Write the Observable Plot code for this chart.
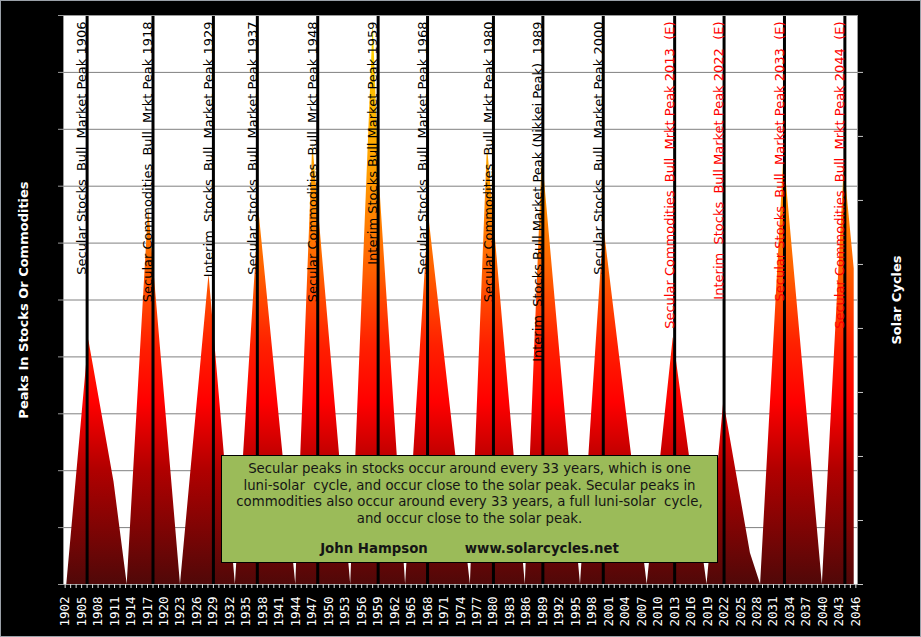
<!DOCTYPE html>
<html>
<head>
<meta charset="utf-8">
<script src="https://cdn.jsdelivr.net/npm/d3@7"></script>
<script src="https://cdn.jsdelivr.net/npm/@observablehq/plot@0.6"></script>
<style>
  html, body { margin: 0; padding: 0; background: #000; }
  #wrap { position: relative; width: 921px; height: 637px; overflow: hidden; background: #000; }
  #wrap svg text { white-space: pre; }
  #note {
    position: absolute; left: 221px; top: 455px; width: 497px; height: 108px;
    box-sizing: border-box; background: #9BBB59; border: 1px solid #000;
    font-family: "DejaVu Sans", Verdana, sans-serif; font-size: 13.3px; color: #151515;
    text-align: center; line-height: 16.5px; padding-top: 5px; white-space: pre;
  }
  #note b { display: inline-block; margin-top: 14px; }
  #border { position: absolute; left: 0; top: 0; width: 921px; height: 637px; box-sizing: border-box; border: 1px solid #9aa0a8; pointer-events: none; }
</style>
</head>
<body>
<div id="wrap"></div>
<script>
// ---- data ----
const solarYears  = [1902.3, 1906.3, 1910.9, 1913.3, 1917.2, 1923.0, 1928.2, 1933.0, 1937.3, 1944.0,
                     1947.1, 1954.0, 1958.1, 1959.1, 1964.0, 1968.2, 1975.8, 1978.9, 1985.8, 1988.9,
                     1995.85, 2000.1, 2008.0, 2012.75, 2018.9, 2021.95, 2026.8, 2028.65, 2032.9, 2039.9,
                     2043.9, 2045.7];
const solarValues = [0, 43, 18, 0, 66.2, 0, 54.5, 0, 65.6, 0,
                     77.5, 0, 99, 73, 0, 65, 0, 77.2, 0, 75.4,
                     0, 63, 0, 43.4, 0, 32.2, 5.5, 0, 75.5, 0,
                     73.7, 55.5];

const peakYears  = [1906, 1918, 1929, 1937, 1948, 1959, 1968, 1980, 1989, 2000, 2013, 2022, 2033, 2044];
const peakLabels = [
  "Secular Stocks  Bull  Market Peak 1906",
  "Secular Commodities  Bull  Mrkt Peak 1918",
  "Interim  Stocks  Bull  Market Peak 1929",
  "Secular Stocks  Bull  Market Peak 1937",
  "Secular Commodities  Bull  Mrkt Peak 1948",
  "Interim Stocks Bull Market Peak 1959",
  "Secular Stocks  Bull  Market Peak 1968",
  "Secular Commodities  Bull  Mrkt Peak 1980",
  "Interim  Stocks Bull Market Peak (Nikkei Peak)  1989",
  "Secular Stocks  Bull  Market Peak 2000",
  "Secular Commodities  Bull  Mrkt Peak 2013  (E)",
  "Interim  Stocks  Bull Market Peak 2022  (E)",
  "Secular Stocks  Bull  Market Peak 2033  (E)",
  "Secular Commodities  Bull  Mrkt Peak 2044  (E)"
];
const peakEstimated = [false, false, false, false, false, false, false, false, false, false, true, true, true, true];

const yearTicks  = d3.range(1902, 2047);          // minor ticks every year
const labelEvery = 3;                              // labelled every 3 years from 1902
const leftTicks  = d3.range(0, 101, 10);
const rightTicks = d3.range(0, 91, 11.25);

const leftTitle  = "Peaks In Stocks Or Commodities";
const rightTitle = "Solar Cycles";
const noteLines  = [
  "Secular peaks in stocks occur around every 33 years, which is one",
  "luni-solar  cycle, and occur close to the solar peak. Secular peaks in",
  "commodities also occur around every 33 years, a full luni-solar  cycle,",
  "and occur close to the solar peak."
];
const noteCredit = "John Hampson        www.solarcycles.net";

// ---- build ----
const solar = solarYears.map((year, i) => ({year, value: solarValues[i]}));
const peaks = peakYears.map((year, i) => ({year, label: peakLabels[i], est: peakEstimated[i]}));

const chart = Plot.plot({
  width: 921, height: 637,
  marginLeft: 63, marginRight: 64, marginTop: 15, marginBottom: 53,
  style: {background: "#000", color: "#fff", fontFamily: "DejaVu Sans, Verdana, sans-serif", overflow: "visible"},
  x: {domain: [1901.7, 2046.3]},
  y: {domain: [0, 100]},
  marks: [
    Plot.frame({fill: "#fff"}),
    Plot.gridY(leftTicks.slice(1, -1), {stroke: "#808080", strokeOpacity: 1}),
    Plot.areaY(solar, {x: "year", y: "value", fill: "url(#solarGrad)"}),
    Plot.ruleX(peaks, {x: "year", stroke: "#000", strokeWidth: 3}),
    Plot.text(peaks.filter(d => !d.est), {x: "year", text: "label", frameAnchor: "top", rotate: -90, textAnchor: "end",
      dx: -10, dy: 6, fill: "#000", fontSize: 13}),
    Plot.text(peaks.filter(d => d.est), {x: "year", text: "label", frameAnchor: "top", rotate: -90, textAnchor: "end",
      dx: -10, dy: 6, fill: "#ff0000", fontSize: 13}),
    Plot.frame({stroke: "#9a9a9a"}),
    Plot.axisX({ticks: yearTicks, tickSize: 4, tickPadding: 8, tickRotate: -90, stroke: "#ddd", fill: "#fff",
      tickFormat: d => ((d - 1902) % labelEvery === 0 ? String(d) : ""),
      fontFamily: "DejaVu Sans Mono, monospace", fontSize: 12.5, label: null}),
    Plot.axisY({ticks: leftTicks, tickSize: 5, stroke: "#9a9a9a", tickFormat: () => "", label: null}),
    Plot.axisY({ticks: rightTicks, anchor: "right", tickSize: 5, stroke: "#c8c8c8", tickFormat: () => "", label: null}),
    Plot.text([leftTitle], {frameAnchor: "left", textAnchor: "middle", dx: -40, rotate: -90, fill: "#fff", fontWeight: "bold", fontSize: 13}),
    Plot.text([rightTitle], {frameAnchor: "right", textAnchor: "middle", dx: 39, rotate: -90, fill: "#fff", fontWeight: "bold", fontSize: 13})
  ]
});

// vertical colour gradient shared by all the solar-cycle triangles
const grad = d3.select(chart).insert("defs", ":first-child")
  .append("linearGradient").attr("id", "solarGrad")
  .attr("gradientUnits", "userSpaceOnUse")
  .attr("x1", 0).attr("x2", 0).attr("y1", 15).attr("y2", 584);
[[0, "#ffe600"], [0.12, "#ffc000"], [0.27, "#ffa000"], [0.45, "#ff6000"], [0.58, "#ff2000"],
 [0.68, "#ff0000"], [0.8, "#b00000"], [1, "#500808"]]
  .forEach(([o, c]) => grad.append("stop").attr("offset", o).attr("stop-color", c));

const wrap = document.getElementById("wrap");
wrap.appendChild(chart);
const note = document.createElement("div");
note.id = "note";
note.textContent = noteLines.join("\n") + "\n";
const credit = document.createElement("b");
credit.textContent = noteCredit;
note.appendChild(credit);
wrap.appendChild(note);
const border = document.createElement("div");
border.id = "border";
wrap.appendChild(border);
</script>
</body>
</html>
